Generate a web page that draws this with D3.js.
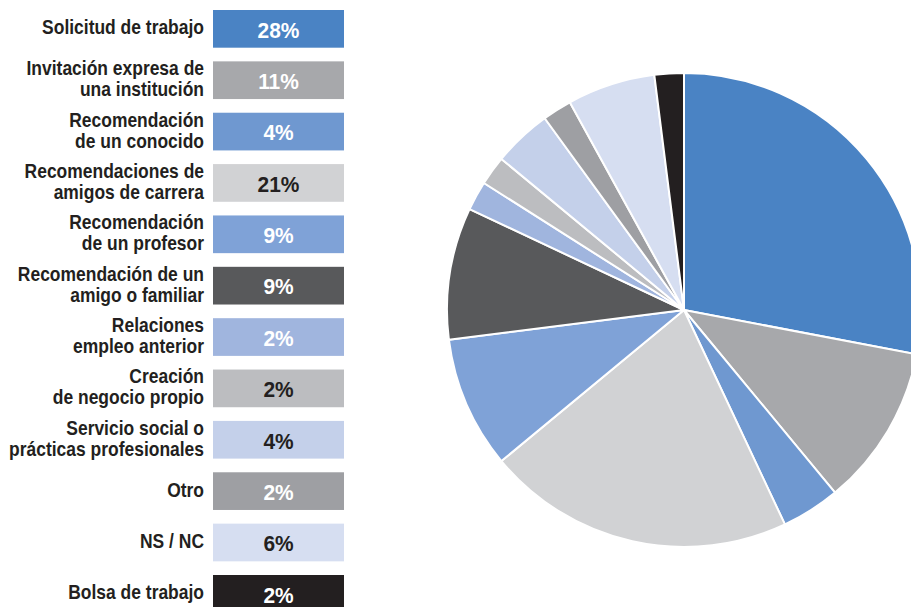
<!DOCTYPE html>
<html><head><meta charset="utf-8">
<script src="https://cdn.jsdelivr.net/npm/d3@7"></script>
<style>
html,body{margin:0;padding:0;background:#fff;overflow:hidden}
svg{display:block}
text{font-family:"Liberation Sans",Arial,Helvetica,sans-serif;font-weight:bold}
</style></head>
<body>
<script>
const categories = [
  "Solicitud de trabajo",
  "Invitación expresa de\nuna institución",
  "Recomendación\nde un conocido",
  "Recomendaciones de\namigos de carrera",
  "Recomendación\nde un profesor",
  "Recomendación de un\namigo o familiar",
  "Relaciones\nempleo anterior",
  "Creación\nde negocio propio",
  "Servicio social o\nprácticas profesionales",
  "Otro",
  "NS / NC",
  "Bolsa de trabajo"
];
const values = [28, 11, 4, 21, 9, 9, 2, 2, 4, 2, 6, 2];
const valueLabels = ["28%", "11%", "4%", "21%", "9%", "9%", "2%", "2%", "4%", "2%", "6%", "2%"];
const palette = ["#4a83c4", "#a7a8ab", "#6f98d0", "#d1d2d4", "#7fa2d7", "#58595b",
                 "#a0b5de", "#bcbdc0", "#c4d0ea", "#9e9fa3", "#d6def1", "#231f20"];

const W = 911, H = 607;
const svg = d3.select("body").append("svg").attr("width", W).attr("height", H);

const color = d3.scaleOrdinal().domain(categories).range(palette);
const textOn = c => d3.lab(c).l > 75 ? "#231f20" : "#ffffff";

// Legend
const y = d3.scaleLinear().domain([0, categories.length - 1]).range([10, 575]);
const boxX = 213, boxW = 131, boxH = 37.7, labelX = 204;
const condense = 0.895;

const rows = svg.append("g").selectAll("g").data(categories).join("g")
  .attr("transform", (d, i) => `translate(0,${y(i)})`);

rows.append("rect").attr("x", boxX).attr("width", boxW).attr("height", boxH)
  .attr("fill", d => color(d));

rows.append("text")
  .attr("transform", `translate(${boxX + boxW / 2},${boxH / 2 + 8.8}) scale(0.93,1)`)
  .attr("text-anchor", "middle")
  .attr("font-size", 22.5)
  .attr("fill", d => textOn(color(d)))
  .text((d, i) => valueLabels[i]);

rows.each(function (d) {
  const lines = d.split("\n");
  const t = d3.select(this).append("text")
    .attr("transform", `translate(${labelX},0) scale(${condense},1)`)
    .attr("text-anchor", "end").attr("font-size", 19.5).attr("fill", "#231f20");
  lines.forEach((ln, k) => {
    t.append("tspan").attr("x", 0)
      .attr("y", boxH / 2 + 5.5 + (k - (lines.length - 1) / 2) * 21)
      .text(ln);
  });
});

// Pie
const cx = 684, cy = 310, r = 237;
const pie = d3.pie().sort(null).value(d => d)(values);
const arc = d3.arc().innerRadius(0).outerRadius(r);
svg.append("g").attr("transform", `translate(${cx},${cy})`)
  .selectAll("path").data(pie).join("path")
  .attr("d", arc)
  .attr("fill", (d, i) => color(categories[i]))
  .attr("stroke", "#fff").attr("stroke-width", 2).attr("stroke-linejoin", "round");
</script>
</body></html>
